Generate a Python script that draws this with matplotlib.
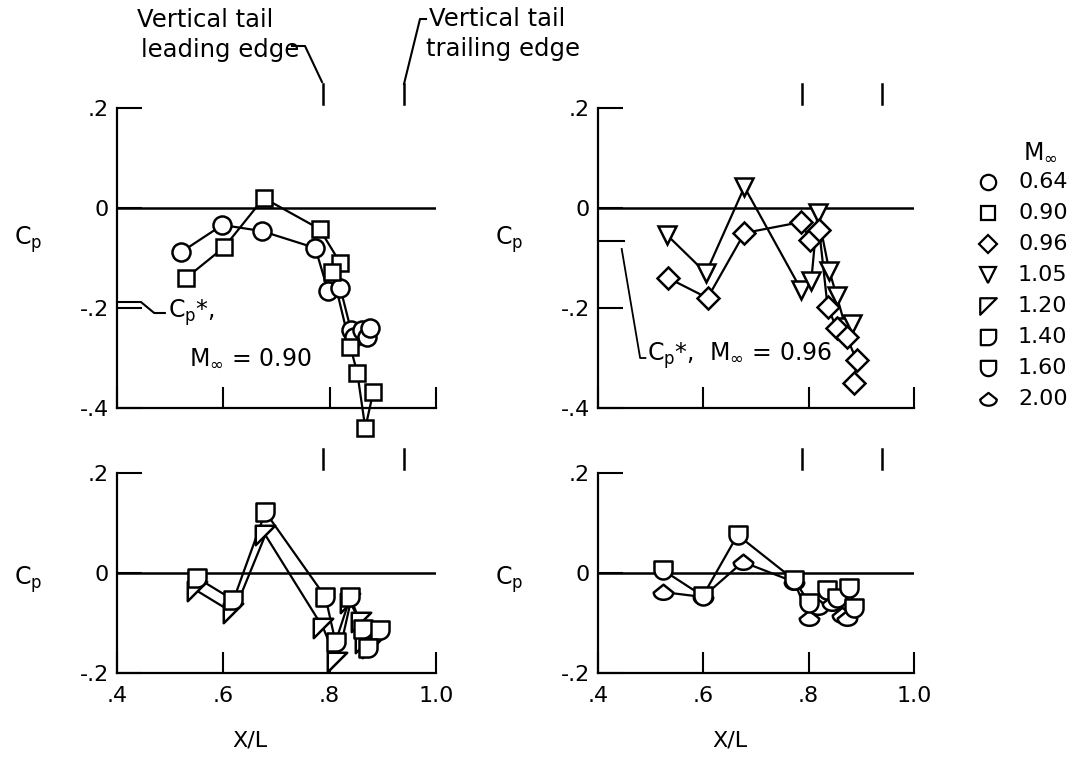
import matplotlib
matplotlib.use("Agg")
import matplotlib.pyplot as plt
import numpy as np
from matplotlib.lines import Line2D
from matplotlib.path import Path

W, H = 1078, 758

# ---- values ----
# upper left: M = 0.64 (circles), M = 0.90 (squares)
x_064 = [0.521, 0.598, 0.672, 0.773, 0.797, 0.820, 0.840, 0.846, 0.861, 0.871, 0.876]
cp_064 = [-0.088, -0.034, -0.046, -0.080, -0.166, -0.160, -0.244, -0.258, -0.244, -0.258, -0.240]
x_090 = [0.530, 0.602, 0.676, 0.781, 0.820, 0.805, 0.839, 0.852, 0.867, 0.882]
cp_090 = [-0.140, -0.078, 0.020, -0.042, -0.110, -0.128, -0.278, -0.330, -0.440, -0.368]

# upper right: M = 0.96 (diamonds), M = 1.05 (down triangles)
x_096 = [0.533, 0.608, 0.678, 0.786, 0.802, 0.820, 0.836, 0.853, 0.872, 0.891, 0.887]
cp_096 = [-0.140, -0.180, -0.050, -0.028, -0.064, -0.044, -0.198, -0.240, -0.258, -0.304, -0.350]
x_105 = [0.531, 0.605, 0.678, 0.786, 0.805, 0.817, 0.839, 0.853, 0.870, 0.883]
cp_105 = [-0.054, -0.130, 0.042, -0.164, -0.145, -0.010, -0.125, -0.175, -0.238, -0.232]

# lower left: M = 1.20, M = 1.40
x_120 = [0.551, 0.619, 0.679, 0.788, 0.814, 0.839, 0.858, 0.866, 0.880]
cp_120 = [-0.036, -0.080, 0.076, -0.110, -0.178, -0.060, -0.098, -0.140, -0.150]
x_140 = [0.551, 0.619, 0.679, 0.792, 0.811, 0.839, 0.862, 0.895, 0.872]
cp_140 = [-0.010, -0.054, 0.122, -0.048, -0.138, -0.048, -0.112, -0.114, -0.150]

# lower right: M = 1.60, M = 2.00
x_160 = [0.523, 0.599, 0.665, 0.773, 0.801, 0.834, 0.853, 0.877, 0.887]
cp_160 = [0.006, -0.046, 0.076, -0.014, -0.060, -0.034, -0.050, -0.030, -0.070]
x_200 = [0.523, 0.599, 0.675, 0.773, 0.801, 0.817, 0.845, 0.864, 0.872]
cp_200 = [-0.038, -0.048, 0.022, -0.018, -0.090, -0.068, -0.060, -0.084, -0.090]

MACH_LABELS = ["0.64", "0.90", "0.96", "1.05", "1.20", "1.40", "1.60", "2.00"]
CP_STAR = {"0.90": -0.188, "0.96": -0.066}
TAIL_LE, TAIL_TE = 0.787, 0.940

XTICKS = [0.4, 0.6, 0.8, 1.0]
XTICKLABELS = [".4", ".6", ".8", "1.0"]
YTICKS_TOP = [0.2, 0, -0.2, -0.4]
YTICKLABELS_TOP = [".2", "0", "-.2", "-.4"]
YTICKS_BOT = [0.2, 0, -0.2]
YTICKLABELS_BOT = [".2", "0", "-.2"]


# ---- flagged NACA-style symbols ----
def arc(cx, cy, r, a0, a1, ry=None, n=24):
    t = np.linspace(np.radians(a0), np.radians(a1), n)
    return list(zip(cx + r * np.cos(t), cy + (ry or r) * np.sin(t)))


M_120 = Path([(-1, 1), (1, 1), (-1, -1), (-1, 1)], closed=True)
v = [(-1, 1), (1, 1), (1, 0)] + arc(0, 0, 1, 0, -90) + [(-1, -1), (-1, 1)]
M_140 = Path(v, closed=True)
v = [(-1, 1), (1, 1), (1, 0)] + arc(0, 0, 1, 0, -180) + [(-1, 1)]
M_160 = Path(v, closed=True)
v = [(-1, 0), (0, 0.8), (1, 0)] + arc(0, 0, 1, 0, -180, ry=0.75)
M_200 = Path(v, closed=True)

MARKERS = {"0.64": ("o", 13), "0.90": ("s", 12), "0.96": ("D", 11),
           "1.05": ("v", 13), "1.20": (M_120, 14), "1.40": (M_140, 13),
           "1.60": (M_160, 13), "2.00": (M_200, 14)}

plt.rcParams.update({"font.family": "DejaVu Sans", "font.size": 16,
                     "mathtext.fontset": "dejavusans", "axes.linewidth": 1.6})

fig = plt.figure(figsize=(W / 100, H / 100), dpi=100)


def fx(px):
    return px / W


def fy(py):
    return 1 - py / H


def panel(rect, ylim, yticks, yticklabels, xlabels):
    ax = fig.add_axes(rect)
    ax.set_xlim(0.4, 1.0)
    ax.set_ylim(*ylim)
    for s in ("top", "right"):
        ax.spines[s].set_visible(False)
    ax.set_xticks(XTICKS)
    ax.set_xticklabels(XTICKLABELS if xlabels else [])
    ax.set_yticks(yticks)
    ax.set_yticklabels(yticklabels)
    ax.tick_params(axis="x", direction="in", length=15, width=1.5, pad=9)
    ax.tick_params(axis="y", direction="in", length=18, width=1.5, pad=6)
    ax.axhline(0, color="black", lw=1.8, zorder=1)
    ax.patch.set_alpha(0)
    # vertical tail leading/trailing edge marks
    for xe in (TAIL_LE, TAIL_TE):
        ax.plot([xe, xe], [ylim[1] + 0.008, ylim[1] + 0.048], color="black",
                lw=1.8, clip_on=False)
    return ax


def series(ax, x, cp, mach):
    m, ms = MARKERS[mach]
    ax.plot(x, cp, color="black", lw=1.6, zorder=2, clip_on=False)
    ax.plot(x, cp, ls="none", marker=m, ms=ms, mfc="white", mec="black",
            mew=1.8, zorder=3, clip_on=False)


lw_x, rw_x = 117, 598
aw_l, aw_r = 436 - 117, 914 - 598
ax_tl = panel([fx(lw_x), fy(408), aw_l / W, 300 / H], (-0.4, 0.2),
              YTICKS_TOP, YTICKLABELS_TOP, False)
ax_tr = panel([fx(rw_x), fy(408), aw_r / W, 300 / H], (-0.4, 0.2),
              YTICKS_TOP, YTICKLABELS_TOP, False)
ax_bl = panel([fx(lw_x), fy(673), aw_l / W, 200 / H], (-0.2, 0.2),
              YTICKS_BOT, YTICKLABELS_BOT, True)
ax_br = panel([fx(rw_x), fy(673), aw_r / W, 200 / H], (-0.2, 0.2),
              YTICKS_BOT, YTICKLABELS_BOT, True)

series(ax_tl, x_064, cp_064, "0.64")
series(ax_tl, x_090, cp_090, "0.90")
series(ax_tr, x_105, cp_105, "1.05")
series(ax_tr, x_096, cp_096, "0.96")
series(ax_bl, x_120, cp_120, "1.20")
series(ax_bl, x_140, cp_140, "1.40")
series(ax_br, x_200, cp_200, "2.00")
series(ax_br, x_160, cp_160, "1.60")

# C_p labels and X/L labels
for ax, yf in ((ax_tl, 0.56), (ax_tr, 0.56), (ax_bl, 0.465), (ax_br, 0.465)):
    ax.text(-0.28, yf, r"C$_\mathregular{p}$", transform=ax.transAxes,
            ha="center", va="center", fontsize=17)
for ax in (ax_bl, ax_br):
    ax.text(0.418, -0.335, "X/L", transform=ax.transAxes, ha="center",
            va="center", fontsize=16)

# critical pressure coefficient marks
cs = CP_STAR["0.90"]
ax_tl.plot([0.40, 0.445, 0.47, 0.49], [cs, cs, -0.21, -0.21], color="black",
           lw=1.5, clip_on=False)
ax_tl.text(0.495, -0.21, r"C$_\mathregular{p}$*,", ha="left", va="center",
           fontsize=17)
ax_tl.text(0.535, -0.30, r"M$_\infty$ = 0.90", ha="left", va="center",
           fontsize=17)
cs = CP_STAR["0.96"]
ax_tr.plot([0.40, 0.45], [cs, cs], color="black", lw=1.5, clip_on=False)
ax_tr.plot([0.445, 0.48, 0.49], [cs - 0.016, -0.30, -0.30], color="black",
           lw=1.3, clip_on=False)
ax_tr.text(0.493, -0.296, r"C$_\mathregular{p}$*,  M$_\infty$ = 0.96",
           ha="left", va="center", fontsize=17)

# vertical tail callouts
fig.text(fx(205), fy(20), "Vertical tail", ha="center", va="center", fontsize=17.5)
fig.text(fx(220), fy(50), "leading edge", ha="center", va="center", fontsize=17.5)
fig.add_artist(Line2D([fx(292), fx(305), fx(322)], [fy(46), fy(46), fy(82)],
                      transform=fig.transFigure, color="black", lw=1.5))
fig.text(fx(497), fy(19), "Vertical tail", ha="center", va="center", fontsize=17.5)
fig.text(fx(503), fy(49), "trailing edge", ha="center", va="center", fontsize=17.5)
fig.add_artist(Line2D([fx(404), fx(420), fx(426)], [fy(84), fy(19), fy(19)],
                      transform=fig.transFigure, color="black", lw=1.5))

# legend
fig.text(fx(1040), fy(152), r"M$_\infty$", ha="center", va="center", fontsize=17)
for i, lab in enumerate(MACH_LABELS):
    py = 182 + 31 * i
    m, ms = MARKERS[lab]
    fig.add_artist(Line2D([fx(988)], [fy(py)], transform=fig.transFigure,
                          marker=m, ms=ms * 0.85, mfc="white", mec="black",
                          mew=1.6, ls="none"))
    fig.text(fx(1018), fy(py), lab, ha="left", va="center", fontsize=16)

fig.savefig("out.png", dpi=100)
